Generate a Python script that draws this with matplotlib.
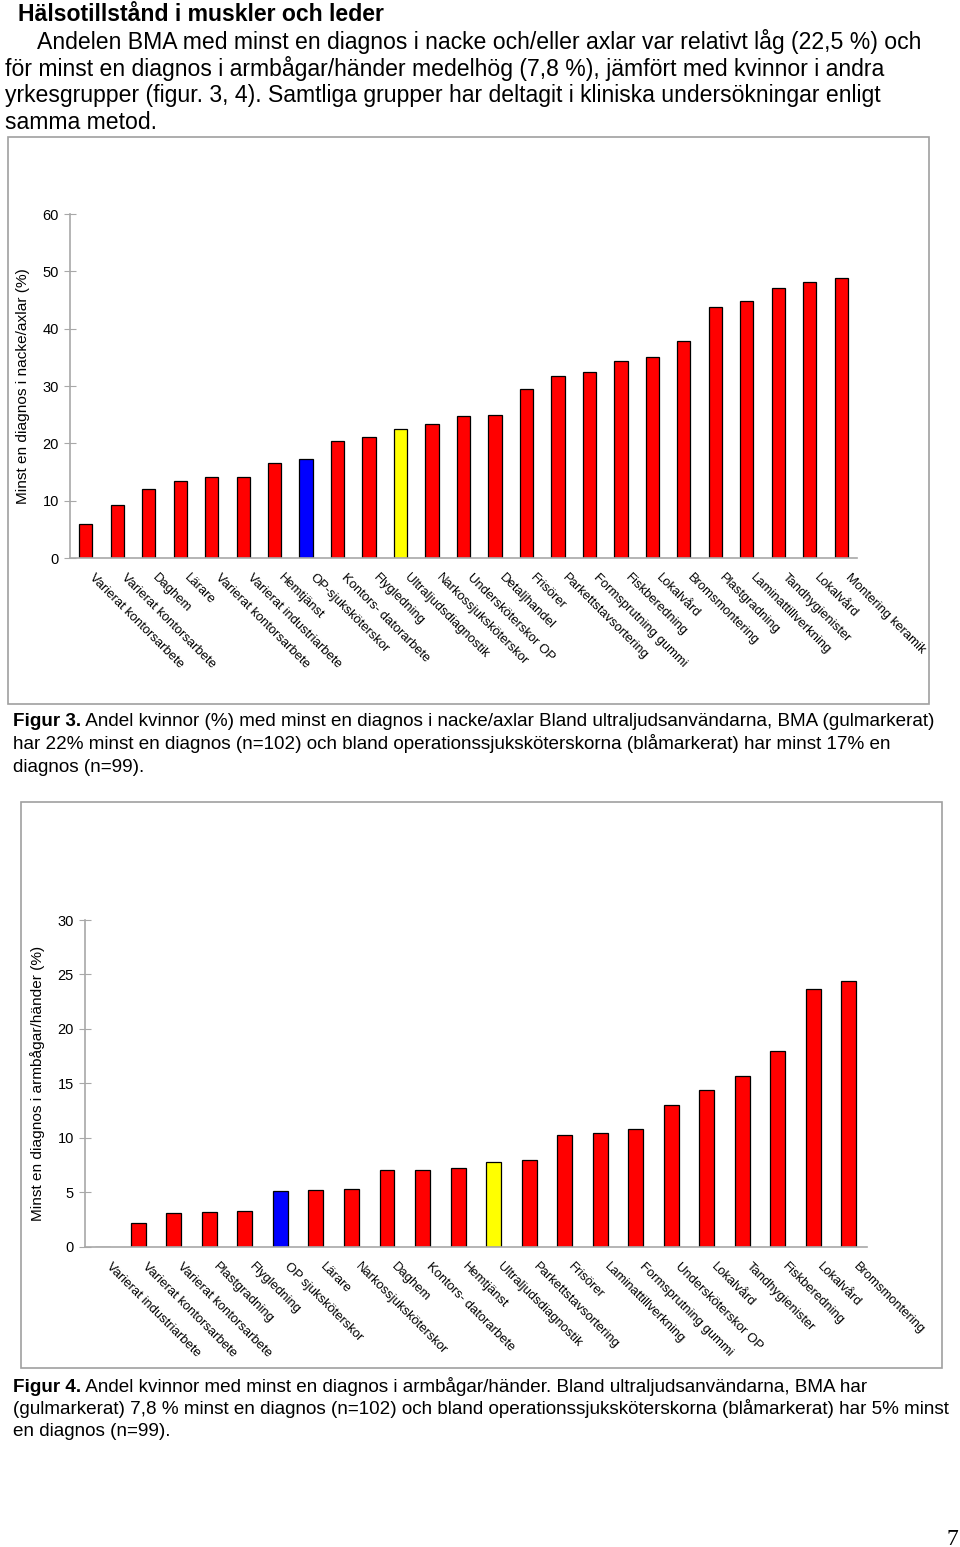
#!/bin/python

import sys
import matplotlib as mpl
import matplotlib.pyplot as plt
from matplotlib.patches import Rectangle
from matplotlib.transforms import offset_copy

W, H = 960, 1547

# Figur 3: nacke/axlar
labels3 = ['Varierat kontorsarbete', 'Varierat kontorsarbete', 'Daghem', 'Lärare',
           'Varierat kontorsarbete', 'Varierat industriarbete', 'Hemtjänst',
           'OP-sjuksköterskor', 'Kontors- datorarbete', 'Flygledning',
           'Ultraljudsdiagnostik', 'Narkossjuksköterskor', 'Undersköterskor OP',
           'Detaljhandel', 'Frisörer', 'Parkettstavsortering', 'Formsprutning gummi',
           'Fiskberedning', 'Lokalvård', 'Bromsmontering', 'Plastgradning',
           'Laminattillverkning', 'Tandhygienister', 'Lokalvård', 'Montering keramik']
values3 = [6.0, 9.3, 12.1, 13.4, 14.2, 14.2, 16.6, 17.2, 20.4, 21.1, 22.5, 23.4, 24.7,
           25.0, 29.5, 31.8, 32.5, 34.4, 35.1, 37.8, 43.7, 44.9, 47.1, 48.2, 48.8]
yticks3 = [0, 10, 20, 30, 40, 50, 60]

# Figur 4: armbågar/händer
labels4 = ['Varierat industriarbete', 'Varierat kontorsarbete', 'Varierat kontorsarbete',
           'Plastgradning', 'Flygledning', 'OP sjuksköterskor', 'Lärare',
           'Narkossjuksköterskor', 'Daghem', 'Kontors- datorarbete', 'Hemtjänst',
           'Ultraljudsdiagnostik', 'Parkettstavsortering', 'Frisörer',
           'Laminattillverkning', 'Formsprutning gummi', 'Undersköterskor OP',
           'Lokalvård', 'Tandhygienister', 'Fiskberedning', 'Lokalvård', 'Bromsmontering']
values4 = [0.0, 2.2, 3.1, 3.2, 3.3, 5.1, 5.2, 5.3, 7.0, 7.0, 7.2, 7.8, 8.0, 10.3, 10.4,
           10.8, 13.0, 14.4, 15.7, 18.0, 23.7, 24.4]
yticks4 = [0, 5, 10, 15, 20, 25, 30]

BMA = 'Ultraljudsdiagnostik'
OP = ('OP-sjuksköterskor', 'OP sjuksköterskor')

body = [
    'Andelen BMA med minst en diagnos i nacke och/eller axlar var relativt låg (22,5 %) och',
    'för minst en diagnos i armbågar/händer medelhög (7,8 %), jämfört med kvinnor i andra',
    'yrkesgrupper (figur. 3, 4). Samtliga grupper har deltagit i kliniska undersökningar enligt',
    'samma metod.',
]
cap3 = [
    ('Figur 3.', ' Andel kvinnor (%) med minst en diagnos i nacke/axlar Bland ultraljudsanvändarna, BMA (gulmarkerat)'),
    ('', 'har 22% minst en diagnos (n=102) och bland operationssjuksköterskorna (blåmarkerat) har minst 17% en'),
    ('', 'diagnos (n=99).'),
]
cap4 = [
    ('Figur 4.', ' Andel kvinnor med minst en diagnos i armbågar/händer. Bland ultraljudsanvändarna, BMA har'),
    ('', '(gulmarkerat) 7,8 % minst en diagnos (n=102) och bland operationssjuksköterskorna (blåmarkerat) har 5% minst'),
    ('', 'en diagnos (n=99).'),
]


def px_text(fig, x, y, s, **kw):
    return fig.text(x / W, 1 - y / H, s, va='baseline', ha='left', **kw)


def caption(fig, lines, x, y0, dy, size):
    r = fig.canvas.get_renderer()
    for k, (b, rest) in enumerate(lines):
        y = y0 + k * dy
        xx = x
        if b:
            t = px_text(fig, x, y, b, fontsize=size, fontweight='bold')
            xx = x + t.get_window_extent(r).width
        px_text(fig, xx, y, rest, fontsize=size)


def bar_chart(fig, box, labels, values, yticks, ylabel):
    l, t, r, b = box
    ax = fig.add_axes([l / W, 1 - b / H, (r - l) / W, (b - t) / H])
    colors = []
    for lab in labels:
        if lab == BMA:
            colors.append('#ffff00')
        elif lab in OP:
            colors.append('#0000ff')
        else:
            colors.append('#ff0000')
    x = list(range(len(values)))
    ax.bar(x, values, width=0.42, color=colors, edgecolor='black', linewidth=0.9)
    ax.set_xlim(-0.5, len(values) - 0.5)
    ax.set_ylim(yticks[0], yticks[-1])
    ax.set_yticks(yticks)
    ax.set_xticks([])
    for s in ('top', 'right'):
        ax.spines[s].set_visible(False)
    for s in ('left', 'bottom'):
        ax.spines[s].set_color('#a8a8a8')
        ax.spines[s].set_linewidth(1.2)
    ax.tick_params(axis='y', direction='inout', length=8, width=0.8, color='#a8a8a8',
                   labelsize=10.5, pad=4)
    ax.set_ylabel(ylabel, fontsize=11.1, labelpad=9)
    tr = offset_copy(ax.transData, fig=fig, x=10, y=-14, units='dots')
    for i, lab in enumerate(labels):
        ax.text(i, 0, lab, transform=tr, rotation=-45, rotation_mode='anchor',
                ha='left', va='top', fontsize=9.4)
    return ax


def main():

    mpl.rcParams['font.family'] = ['Liberation Sans', 'DejaVu Sans']
    fig = plt.figure(figsize=(W / 100, H / 100), dpi=100)

    # Heading and body text
    px_text(fig, 18, 21, 'Hälsotillstånd i muskler och leder', fontsize=16.6, fontweight='bold')
    for k, line in enumerate(body):
        px_text(fig, 37 if k == 0 else 5, 49 + k * 26.6, line, fontsize=16.6)

    # Frames
    for (x0, y0, x1, y1) in [(8, 137, 929, 704), (21, 802, 942, 1368)]:
        fig.add_artist(Rectangle((x0 / W, 1 - y1 / H), (x1 - x0) / W, (y1 - y0) / H,
                                 transform=fig.transFigure, fill=False,
                                 edgecolor='#a0a0a0', linewidth=1.2))

    bar_chart(fig, (70, 214, 857, 558), labels3, values3, yticks3,
              'Minst en diagnos i nacke/axlar (%)')
    bar_chart(fig, (85, 920, 866.7, 1246.7), labels4, values4, yticks4,
              'Minst en diagnos i armbågar/händer (%)')

    caption(fig, cap3, 13, 726, 23, 13.6)
    caption(fig, cap4, 13, 1392, 22, 13.6)

    px_text(fig, 947, 1545, '7', fontsize=17, family='Liberation Serif')

    plt.savefig('out.png', dpi=100)

    return 0


if __name__ == '__main__':
    sys.exit(main())
